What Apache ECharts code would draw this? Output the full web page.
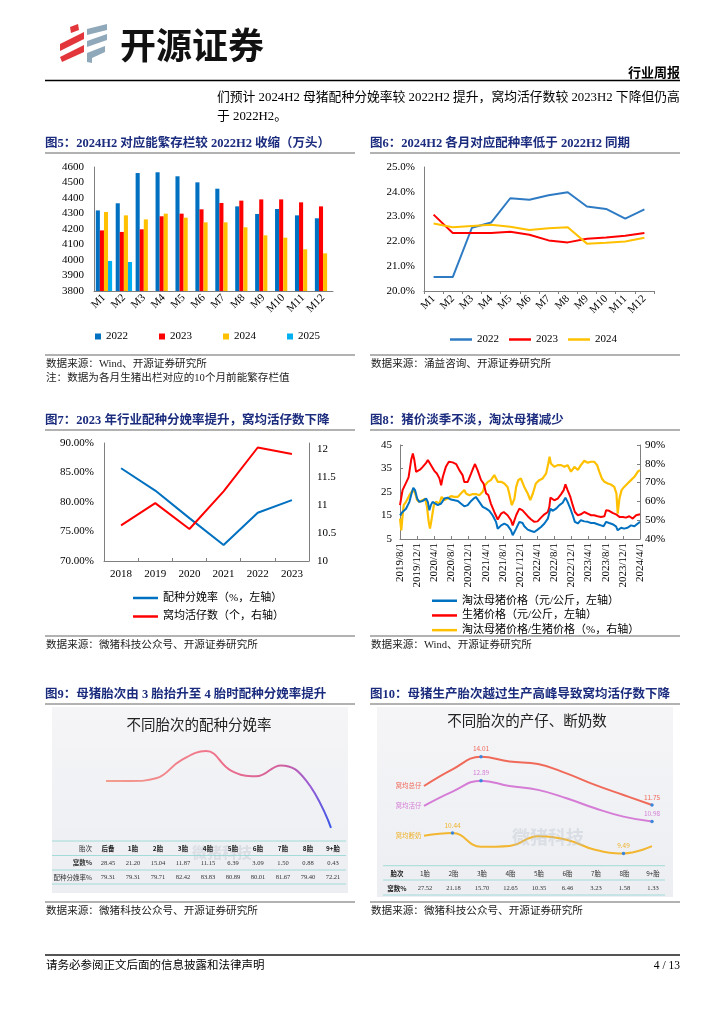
<!DOCTYPE html>
<html><head><meta charset="utf-8">
<script src="https://cdn.jsdelivr.net/npm/echarts@6/dist/echarts.min.js"></script>
<style>html,body{margin:0;padding:0;background:#fff}#c{width:724px;height:1024px}</style>
</head><body><div id="c"></div>
<script>
// ---------- DATA ----------
const months = ['M1','M2','M3','M4','M5','M6','M7','M8','M9','M10','M11','M12'];
const sows2022 = [4320,4366,4561,4566,4540,4501,4460,4346,4297,4329,4288,4269];
const sows2023 = [4191,4181,4198,4282,4299,4327,4368,4383,4391,4391,4372,4346];
const sows2024 = [4310,4288,4262,4299,4273,4243,4243,4211,4159,4144,4069,4043];
const sows2025 = [3994,3987,null,null,null,null,null,null,null,null,null,null];

const mating2022 = [20.56,20.56,22.55,22.76,23.74,23.68,23.86,23.98,23.41,23.31,22.92,23.29];
const mating2023 = [23.08,22.34,22.34,22.34,22.39,22.27,22.04,21.96,22.11,22.16,22.23,22.34];
const mating2024 = [22.72,22.57,22.62,22.67,22.59,22.46,22.53,22.57,21.91,21.95,22.00,22.15];

const years7 = ['2018','2019','2020','2021','2022','2023'];
const farrowRate = [85.72,81.94,77.27,72.70,78.17,80.31];
const liveLitter = [10.635,11.03,10.57,11.24,12.02,11.905];

// chart 8: [months since 2019/8/1, value]
const cullSowPrice = [[0,15.1],[0.6,16.5],[1.4,17.9],[2.2,20.8],[2.7,24.4],[3.1,26.8],[3.5,25.8],[4.0,22.2],[4.5,20.8],[5.3,21.2],[6.1,22.2],[6.5,20.8],[6.85,17.2],[7.2,19.4],[7.6,20.8],[8.0,20.1],[8.8,19.4],[9.6,20.1],[10.35,22.2],[11.1,22.6],[11.9,21.8],[12.7,21.5],[13.5,21.2],[14.2,20.1],[15.0,18.9],[15.8,19.4],[16.6,21.2],[17.2,22.2],[17.7,22.9],[18.5,20.8],[19.3,18.7],[20.1,17.9],[20.85,17.0],[21.6,15.1],[22.4,12.3],[22.8,9.4],[23.6,10.8],[24.35,11.5],[25.1,10.8],[25.9,8.7],[26.3,6.6],[27.1,9.4],[27.85,12.3],[28.6,11.8],[29.0,10.4],[29.8,9.0],[30.6,8.4],[31.35,8.0],[32.1,9.0],[32.9,10.1],[33.7,11.6],[34.5,13.7],[35.1,17.9],[35.6,17.0],[36.4,17.9],[37.2,19.4],[37.96,20.4],[38.6,22.6],[39.1,20.8],[39.75,17.9],[40.3,15.1],[40.8,12.3],[41.5,11.6],[42.2,13.0],[43.0,12.5],[43.8,12.3],[44.6,11.8],[45.3,11.8],[46.1,11.3],[46.9,10.8],[47.5,10.4],[48.1,12.3],[48.8,11.8],[49.6,11.3],[50.4,10.4],[50.8,8.7],[51.6,9.8],[52.3,9.4],[53.1,9.8],[53.9,10.8],[54.7,10.4],[55.5,11.6],[56,12.3]];
const hogPrice = [[0,19.4],[0.6,25.8],[1.4,28.9],[2.0,31.2],[2.6,38.6],[3.0,41.4],[3.35,38.6],[3.75,33.6],[4.1,34.0],[4.75,34.6],[5.3,35.7],[6.1,37.4],[6.5,38.6],[7.2,36.5],[8.0,34.0],[8.6,32.9],[9.2,30.8],[9.6,27.9],[10.0,31.5],[10.7,35.7],[11.4,37.9],[12.3,37.6],[13.1,36.9],[13.85,34.3],[14.6,32.2],[15.0,29.3],[15.8,29.3],[16.6,32.9],[17.2,35.7],[17.5,36.9],[18.1,34.3],[18.9,30.1],[19.5,28.6],[20.1,24.4],[20.6,23.7],[21.2,20.1],[22.0,16.5],[22.8,13.3],[23.6,15.8],[24.2,16.5],[25.1,15.1],[25.9,13.0],[26.3,10.8],[27.1,15.1],[27.85,17.9],[28.6,17.2],[29.0,16.5],[29.8,14.7],[30.6,13.3],[31.35,12.3],[32.1,12.5],[32.9,14.1],[33.7,15.5],[34.5,16.5],[34.85,18.7],[35.1,22.6],[35.5,22.2],[36.0,21.5],[36.8,22.2],[37.6,24.1],[38.2,25.8],[38.6,28.3],[39.1,25.8],[39.75,22.9],[40.3,19.4],[40.8,16.5],[41.5,15.1],[42.2,15.5],[43.0,16.5],[43.8,15.8],[44.6,15.1],[45.3,15.1],[46.1,14.7],[46.9,14.4],[47.7,14.7],[48.1,17.2],[48.8,17.0],[49.6,16.1],[50.4,15.5],[51.2,14.4],[52.0,14.4],[52.7,14.1],[53.5,14.7],[54.3,13.7],[55.1,15.1],[56,15.5]];
const priceRatio = [[0,50.9],[0.3,44.6],[0.5,50],[0.86,58],[1.4,59.8],[2.2,63.3],[3.0,66],[3.5,64.6],[4.0,60.7],[4.5,59.8],[5.3,60.7],[5.85,61.5],[6.3,57.1],[6.7,49.1],[7.0,45.5],[7.4,50.9],[7.9,58],[8.4,59.8],[9.2,58.9],[9.7,62.4],[10.35,60.7],[11.1,61.5],[11.9,62.8],[12.7,62.4],[13.5,62.4],[14.2,64.2],[15.0,66],[15.4,64.2],[16.2,63.3],[17.0,63.9],[17.7,63.9],[18.5,63.3],[19.3,65.1],[19.85,68.6],[20.5,70.4],[21.2,71.3],[22.0,74],[22.4,73.1],[22.8,70.4],[23.6,70.4],[24.35,69.5],[25.1,67.7],[25.5,64.2],[25.9,59.8],[26.1,58],[26.7,61.5],[27.1,67.7],[27.6,71.3],[28.2,72.2],[28.6,71.5],[29.0,67.7],[29.8,64.2],[30.4,60.7],[31.0,64.2],[31.7,69.5],[32.5,71.3],[33.3,72.2],[34.1,74.9],[34.6,80.2],[34.9,83.8],[35.2,80.2],[36.0,78.4],[36.8,79.3],[37.6,79.3],[38.35,78.4],[39.1,79.3],[39.9,75.8],[40.7,78.4],[41.5,76.7],[42.2,79.3],[43.0,81.6],[43.8,80.6],[44.6,81.1],[45.3,81.1],[46.0,79.3],[46.5,75.8],[47.1,72.2],[47.7,70.4],[48.5,69.5],[49.2,69],[50.0,67.7],[50.5,64.2],[50.8,53.5],[51.2,61.5],[51.7,66],[52.3,67.7],[53.1,69.5],[53.9,71.3],[54.7,73.1],[55.5,75.8],[56,76.7]];

const parity9 = ['后备','1胎','2胎','3胎','4胎','5胎','6胎','7胎','8胎','9+胎'];
const litterShare9 = ['28.45','21.20','15.04','11.87','11.15','6.39','3.09','1.50','0.88','0.43'];
const farrowByParity = [79.31,79.31,79.71,82.42,83.83,80.89,80.01,81.67,79.40,72.21];

const parity10 = ['1胎','2胎','3胎','4胎','5胎','6胎','7胎','8胎','9+胎'];
const litterShare10 = ['27.52','21.18','15.70','12.65','10.35','6.46','3.23','1.58','1.33'];
const totalBorn = [12.64,13.42,14.01,13.78,13.67,13.23,12.69,12.22,11.75];
const bornAlive = [11.71,12.38,12.89,12.64,12.46,12.07,11.60,11.21,10.98];
const weaned = [10.32,10.44,9.80,9.84,10.29,10.13,9.66,9.49,9.83];

// ---------- STYLE ----------
const SERIF = "'Liberation Serif','Noto Sans CJK SC',serif";
const CJK = "'Noto Sans CJK SC',sans-serif";
const NAVY = '#1B2C7E';
const AX = '#7f7f7f';

function txt(text, x, y, font, fill, align, va) {
  return {type:'text', silent:true, z:20, style:{text:text, x:x, y:y, font:font||('11px '+SERIF), fill:fill||'#000', align:align||'left', verticalAlign:va||'middle'}};
}
function hl(x1,x2,y,w,c){return {type:'line', silent:true, z:20, shape:{x1:x1,y1:y,x2:x2,y2:y}, style:{stroke:c,lineWidth:w}};}
function poly(pts,c){return {type:'polygon', silent:true, z:20, shape:{points:pts}, style:{fill:c}};}

const g = [];
// header logo
const RED='#E2363A', GRY='#8FA8BA';
g.push(poly([[70,27],[78,24],[79,30],[71,33]],RED));
g.push(poly([[60,44],[84,32],[84,39],[60,51]],RED));
g.push(poly([[60,57],[84,45],[84,52],[62,62]],RED));
g.push(poly([[87,29],[107,24],[107,30],[87,35]],GRY));
g.push(poly([[87,41],[107,34],[107,40],[87,47]],GRY));
g.push(poly([[87,53],[105,46],[105,52],[92,58],[92,63],[87,62]],GRY));
g.push(txt('开源证券',120,45,'bold 36px '+CJK,'#111'));
g.push(txt('行业周报',680,72,'bold 13px '+CJK,'#000','right'));
g.push(hl(45,680,80.5,1.5,'#000'));
g.push(txt('们预计 2024H2 母猪配种分娩率较 2022H2 提升，窝均活仔数较 2023H2 下降但仍高',217,98,'12.8px '+SERIF,'#000'));
g.push(txt('于 2022H2。',217,117,'12.8px '+SERIF,'#000'));

// figure titles, rules, sources
const TF = 'bold 12.5px '+SERIF;
const SF = '10.6px '+SERIF;
g.push(txt('图5：2024H2 对应能繁存栏较 2022H2 收缩（万头）',45,144,TF,NAVY));
g.push(txt('图6：2024H2 各月对应配种率低于 2022H2 同期',370,144,TF,NAVY));
g.push(hl(45,355,153,1.2,'#666')); g.push(hl(370,680,153,1.2,'#666'));
g.push(hl(45,355,355,1.2,'#666')); g.push(hl(370,680,355,1.2,'#666'));
g.push(txt('数据来源：Wind、开源证券研究所',46,364,SF,'#222'));
g.push(txt('注：数据为各月生猪出栏对应的10个月前能繁存栏值',46,378,SF,'#222'));
g.push(txt('数据来源：涌益咨询、开源证券研究所',371,364,SF,'#222'));

g.push(txt('图7：2023 年行业配种分娩率提升，窝均活仔数下降',45,421,TF,NAVY));
g.push(txt('图8：猪价淡季不淡，淘汰母猪减少',370,421,TF,NAVY));
g.push(hl(45,355,430,1.2,'#666')); g.push(hl(370,680,430,1.2,'#666'));
g.push(hl(45,355,636,1.2,'#666')); g.push(hl(370,680,636,1.2,'#666'));
g.push(txt('数据来源：微猪科技公众号、开源证券研究所',46,645,SF,'#222'));
g.push(txt('数据来源：Wind、开源证券研究所',371,645,SF,'#222'));

g.push(txt('图9：母猪胎次由 3 胎抬升至 4 胎时配种分娩率提升',45,695,TF,NAVY));
g.push(txt('图10：母猪生产胎次越过生产高峰导致窝均活仔数下降',370,695,TF,NAVY));
g.push(hl(45,355,704,1.2,'#666')); g.push(hl(370,680,704,1.2,'#666'));
g.push(hl(45,355,902,1.2,'#666')); g.push(hl(370,680,902,1.2,'#666'));
g.push(txt('数据来源：微猪科技公众号、开源证券研究所',46,911,SF,'#222'));
g.push(txt('数据来源：微猪科技公众号、开源证券研究所',371,911,SF,'#222'));

// footer
g.push(hl(45,680,955,2,'#555'));
g.push(txt('请务必参阅正文后面的信息披露和法律声明',46,966,'11.5px '+SERIF,'#000'));
g.push(txt('4 / 13',680,966,'11.5px '+SERIF,'#000','right'));

// panels for figures 9 and 10
const panelFill = new echarts.graphic.LinearGradient(0,0,0,1,[{offset:0,color:'#f5f5f7'},{offset:1,color:'#eceef2'}]);
g.push({type:'rect', silent:true, z:-5, shape:{x:52,y:707,width:296,height:186}, style:{fill:panelFill}});
g.push({type:'rect', silent:true, z:-5, shape:{x:377,y:707,width:296,height:190}, style:{fill:panelFill}});
g.push(txt('不同胎次的配种分娩率',199,724,'14.5px '+CJK,'#222','center'));
g.push(txt('不同胎次的产仔、断奶数',527,720,'14.5px '+CJK,'#222','center'));
g.push(txt('微猪科技',222,852,'bold 15px '+CJK,'rgba(180,190,200,0.35)','center'));
g.push(txt('微猪科技',548,837,'bold 18px '+CJK,'rgba(180,190,200,0.35)','center'));

// table fig 9
const TEAL = '#8fd6d2';
[841,855.5,870,884].forEach(y=>g.push(hl(52,346,y,0.8,TEAL)));
const c9x = i => 106 + 25*i;
g.push(txt('胎次',92,848.3,'6.5px '+CJK,'#333','right'));
g.push(txt('窝数%',92,863,'bold 6.5px '+CJK,'#333','right'));
g.push(txt('配种分娩率%',92,877.3,'6.5px '+CJK,'#333','right'));
parity9.forEach((p,i)=>{
  g.push(txt(p,c9x(i)+2,848.3,'bold 6.5px '+CJK,'#222','center'));
  g.push(txt(litterShare9[i],c9x(i)+2,863,'6.5px '+SERIF,'#333','center'));
  g.push(txt(farrowByParity[i].toFixed(2),c9x(i)+2,877.3,'6.5px '+SERIF,'#333','center'));
});
// table fig 10
[865.7,880,895].forEach(y=>g.push(hl(383,665,y,0.8,TEAL)));
const c10x = i => 424 + 28.5*i;
g.push(txt('胎次',397,873.3,'bold 6.5px '+CJK,'#222','center'));
g.push(txt('窝数%',397,888.3,'bold 6.5px '+CJK,'#222','center'));
parity10.forEach((p,i)=>{
  g.push(txt(p,c10x(i)+1,873.3,'6.5px '+CJK,'#333','center'));
  g.push(txt(litterShare10[i],c10x(i)+1,888.3,'6.5px '+SERIF,'#333','center'));
});

// ---------- CHART OPTIONS ----------
const lab = {color:'#000', fontFamily:SERIF, fontSize:11};
const axLine = {show:true, lineStyle:{color:AX, width:1}};

function monthLabel(m){
  const total = 7 + Math.round(m);
  const y = 2019 + Math.floor(total/12);
  const mo = total % 12 + 1;
  return y + '/' + mo + '/1';
}
// build line data for fig 10: dots+value labels at chosen points, series name at first point
function fig10Data(arr, idx, name, color){
  return arr.map((v,i)=>{
    if (idx.indexOf(i) >= 0) {
      return {value:v, symbol:'circle', symbolSize:3.5, itemStyle:{color:'#3b86dc'},
        label:{show:true, position:'top', distance:3, color:color, fontSize:6.5, fontFamily:CJK, formatter:()=>v.toFixed(2)}};
    }
    if (i === 0) {
      return {value:v, symbol:'circle', symbolSize:1, itemStyle:{color:'rgba(0,0,0,0)'},
        label:{show:true, position:'left', distance:2, color:color, fontSize:6.5, fontFamily:CJK, formatter:()=>name}};
    }
    return {value:v};
  });
}

const grad9 = new echarts.graphic.LinearGradient(0,0,1,0,[
  {offset:0,color:'#F3A08E'},{offset:0.5,color:'#F0708A'},{offset:0.78,color:'#D0609E'},{offset:0.9,color:'#9A5CD6'},{offset:1,color:'#2F56E8'}]);

const option = {
  animation:false,
  backgroundColor:'#fff',
  graphic: g,
  grid:[
    {left:94, top:167, width:239, height:124},
    {left:424, top:167, width:230, height:124},
    {left:104, top:443, width:205, height:118},
    {left:400, top:445, width:240, height:94},
    {left:106, top:710.4, width:225, height:132},
    {left:424, top:735.5, width:228, height:128.4}
  ],
  legend:[
    {left:90, top:326, itemWidth:6, itemHeight:6, icon:'rect', itemGap:31, textStyle:{color:'#000',fontFamily:SERIF,fontSize:11}, data:['2022','2023','2024','2025'], selectedMode:false},
    {left:445, top:329, itemWidth:22, itemHeight:2.5, icon:'rect', itemGap:10, textStyle:{color:'#000',fontFamily:SERIF,fontSize:11}, formatter:n=>n.slice(1), data:['r2022','r2023','r2024'], selectedMode:false},
    {left:128, top:587, orient:'vertical', itemWidth:25, itemHeight:2.5, icon:'rect', itemGap:6.5, textStyle:{color:'#000',fontFamily:SERIF,fontSize:11,lineHeight:12}, data:['配种分娩率（%，左轴）','窝均活仔数（个，右轴）'], selectedMode:false},
    {left:427, top:590, orient:'vertical', itemWidth:25, itemHeight:2.5, icon:'rect', itemGap:3.2, textStyle:{color:'#000',fontFamily:SERIF,fontSize:11,lineHeight:11.5}, data:['淘汰母猪价格（元/公斤，左轴）','生猪价格（元/公斤，左轴）','淘汰母猪价格/生猪价格（%，右轴）'], selectedMode:false}
  ],
  xAxis:[
    {gridIndex:0, type:'category', data:months, axisLine:axLine, axisTick:{show:false}, axisLabel:Object.assign({rotate:45, interval:0, margin:5}, lab)},
    {gridIndex:1, type:'category', data:months, axisLine:axLine, axisTick:{show:true, length:3, lineStyle:{color:AX}}, axisLabel:Object.assign({rotate:45, interval:0, margin:6}, lab)},
    {gridIndex:2, type:'category', data:years7, axisLine:axLine, axisTick:{show:true, inside:true, length:3, lineStyle:{color:AX}}, axisLabel:Object.assign({margin:8}, lab)},
    {gridIndex:3, type:'value', min:0, max:56, interval:4, axisLine:axLine, axisTick:{show:true, inside:true, length:3, lineStyle:{color:AX}}, splitLine:{show:false}, axisLabel:Object.assign({rotate:90, margin:4, formatter:monthLabel}, lab)},
    {gridIndex:4, type:'category', data:parity9, boundaryGap:false, show:false},
    {gridIndex:5, type:'category', data:parity10, boundaryGap:false, show:false}
  ],
  yAxis:[
    {gridIndex:0, type:'value', min:3800, max:4600, interval:100, axisLine:axLine, axisTick:{show:false}, splitLine:{show:false}, axisLabel:Object.assign({margin:10, formatter:v=>String(v)}, lab)},
    {gridIndex:1, type:'value', min:20, max:25, interval:1, axisLine:axLine, axisTick:{show:false}, splitLine:{show:false}, axisLabel:Object.assign({margin:9, formatter:v=>v.toFixed(1)+'%'}, lab)},
    {gridIndex:2, type:'value', min:70, max:90, interval:5, axisLine:axLine, axisTick:{show:false}, splitLine:{show:false}, axisLabel:Object.assign({margin:10, formatter:v=>v.toFixed(2)+'%'}, lab)},
    {gridIndex:2, type:'value', position:'right', min:10, max:12.1, interval:0.5, axisLine:axLine, axisTick:{show:false}, splitLine:{show:false}, axisLabel:Object.assign({margin:8, formatter:v=>(Math.abs(v*2-Math.round(v*2))<1e-6 ? String(v) : '')}, lab)},
    {gridIndex:3, type:'value', min:5, max:45, interval:10, axisLine:axLine, axisTick:{show:true, inside:true, length:3, lineStyle:{color:AX}}, splitLine:{show:false}, axisLabel:Object.assign({margin:8}, lab)},
    {gridIndex:3, type:'value', position:'right', min:40, max:90, interval:10, axisLine:axLine, axisTick:{show:true, inside:true, length:3, lineStyle:{color:AX}}, splitLine:{show:false}, axisLabel:Object.assign({margin:5, formatter:v=>v+'%'}, lab)},
    {gridIndex:4, type:'value', min:70, max:90, show:false},
    {gridIndex:5, type:'value', min:9, max:15, show:false}
  ],
  series:[
    {name:'2022', type:'bar', xAxisIndex:0, yAxisIndex:0, data:sows2022, itemStyle:{color:'#0070C0'}, barGap:'0%', barCategoryGap:'18%'},
    {name:'2023', type:'bar', xAxisIndex:0, yAxisIndex:0, data:sows2023, itemStyle:{color:'#FF0000'}},
    {name:'2024', type:'bar', xAxisIndex:0, yAxisIndex:0, data:sows2024, itemStyle:{color:'#FFC000'}},
    {name:'2025', type:'bar', xAxisIndex:0, yAxisIndex:0, data:sows2025, itemStyle:{color:'#00B0F0'}},

    {name:'r2022', type:'line', xAxisIndex:1, yAxisIndex:1, data:mating2022, symbol:'none', lineStyle:{color:'#2E7BC4', width:2}, itemStyle:{color:'#2E7BC4'}},
    {name:'r2023', type:'line', xAxisIndex:1, yAxisIndex:1, data:mating2023, symbol:'none', lineStyle:{color:'#FF0000', width:2}, itemStyle:{color:'#FF0000'}},
    {name:'r2024', type:'line', xAxisIndex:1, yAxisIndex:1, data:mating2024, symbol:'none', lineStyle:{color:'#FFC000', width:2}, itemStyle:{color:'#FFC000'}},

    {name:'配种分娩率（%，左轴）', type:'line', xAxisIndex:2, yAxisIndex:2, data:farrowRate, symbol:'none', lineStyle:{color:'#0070C0', width:2}, itemStyle:{color:'#0070C0'}},
    {name:'窝均活仔数（个，右轴）', type:'line', xAxisIndex:2, yAxisIndex:3, data:liveLitter, symbol:'none', lineStyle:{color:'#FF0000', width:2}, itemStyle:{color:'#FF0000'}},

    {name:'淘汰母猪价格/生猪价格（%，右轴）', type:'line', xAxisIndex:3, yAxisIndex:5, data:priceRatio, symbol:'none', z:2, lineStyle:{color:'#FFC000', width:2.2}, itemStyle:{color:'#FFC000'}},
    {name:'生猪价格（元/公斤，左轴）', type:'line', xAxisIndex:3, yAxisIndex:4, data:hogPrice, symbol:'none', z:3, lineStyle:{color:'#FF0000', width:2}, itemStyle:{color:'#FF0000'}},
    {name:'淘汰母猪价格（元/公斤，左轴）', type:'line', xAxisIndex:3, yAxisIndex:4, data:cullSowPrice, symbol:'none', z:4, lineStyle:{color:'#0070C0', width:2}, itemStyle:{color:'#0070C0'}},

    {name:'配种分娩率', type:'line', xAxisIndex:4, yAxisIndex:6, data:farrowByParity, smooth:0.45, symbol:'none', lineStyle:{color:grad9, width:2}},

    {name:'窝均总仔', type:'line', xAxisIndex:5, yAxisIndex:7, data:fig10Data(totalBorn,[2,8],'窝均总仔','#F06A5A'), smooth:0.45, symbol:'none', showSymbol:true, lineStyle:{color:'#F06A5A', width:2}, itemStyle:{color:'#F06A5A'}},
    {name:'窝均活仔', type:'line', xAxisIndex:5, yAxisIndex:7, data:fig10Data(bornAlive,[2,8],'窝均活仔','#D57DD6'), smooth:0.45, symbol:'none', showSymbol:true, lineStyle:{color:'#D57DD6', width:2}, itemStyle:{color:'#D57DD6'}},
    {name:'窝均断奶', type:'line', xAxisIndex:5, yAxisIndex:7, data:fig10Data(weaned,[1,7],'窝均断奶','#EFB22C'), smooth:0.45, symbol:'none', showSymbol:true, lineStyle:{color:'#F2B630', width:2}, itemStyle:{color:'#F2B630'}}
  ]
};
const chart = echarts.init(document.getElementById('c'), null, {renderer:'canvas'});
chart.setOption(option);
</script></body></html>
